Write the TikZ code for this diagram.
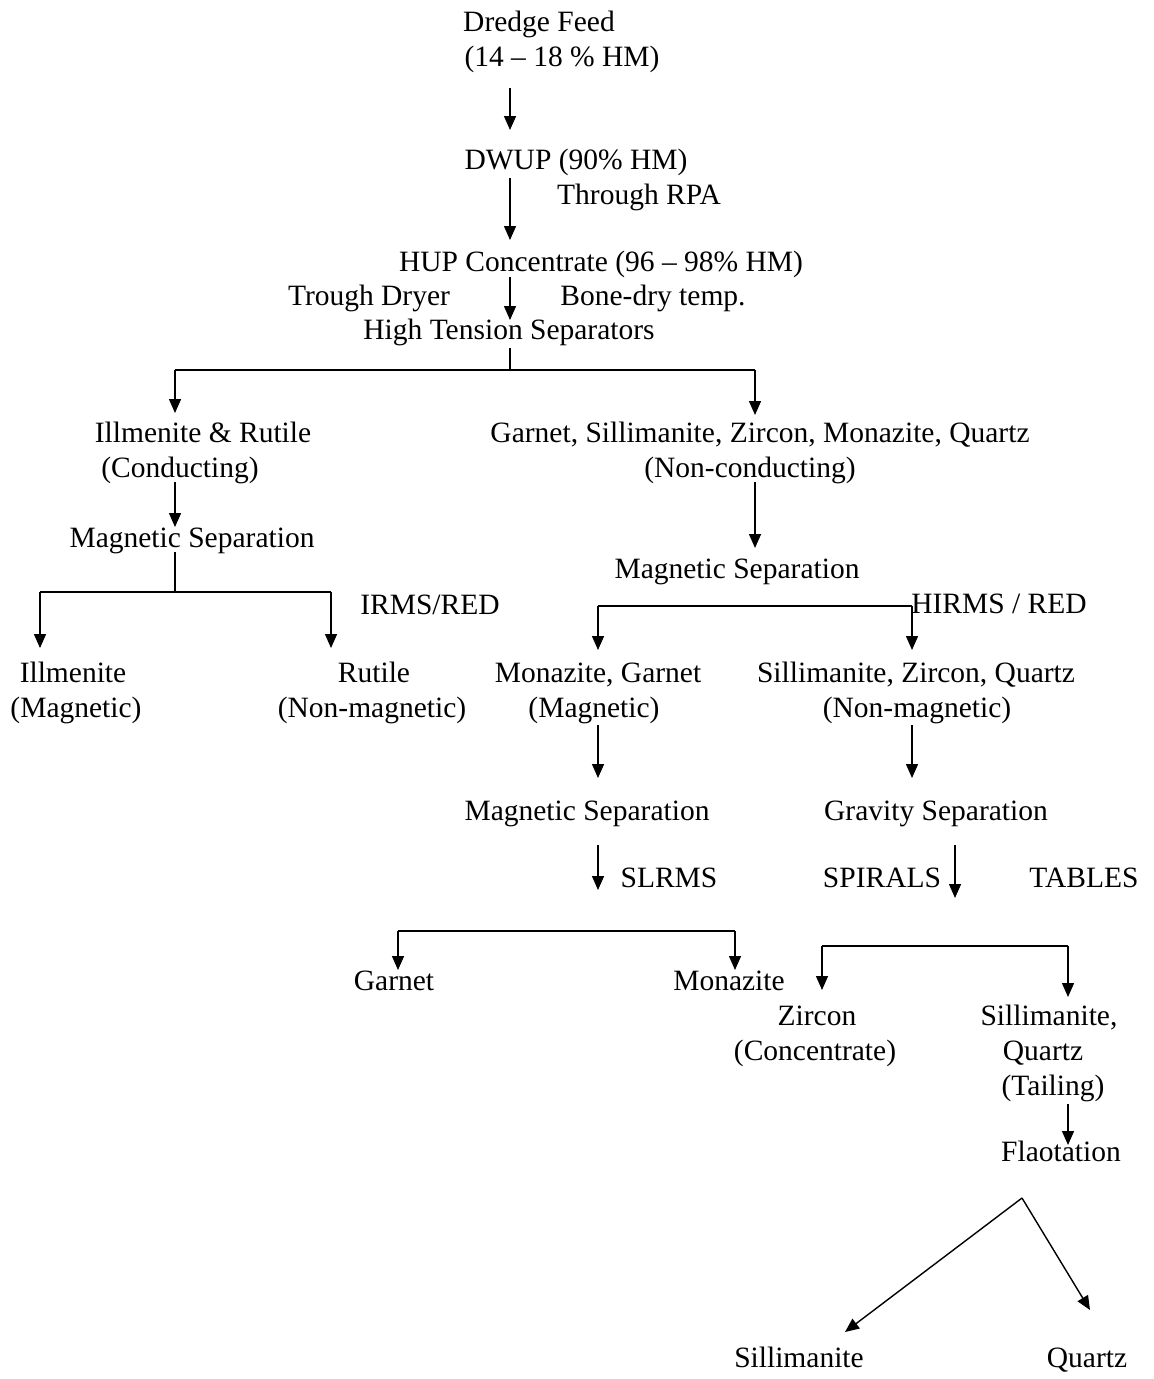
\documentclass[tikz,border=0pt]{standalone}
\usepackage{fontspec}
\setmainfont{Liberation Serif}
\usetikzlibrary{arrows.meta}
\begin{document}
\begin{tikzpicture}[x=1pt,y=-1pt,
  txt/.style={font=\fontsize{29.5}{35}\selectfont, inner sep=0pt, anchor=mid, yshift=-3.5pt},
  ln/.style={line width=1.4pt, black},
  arr/.style={ln, -{Triangle[width=12pt,length=14pt]}}]
\useasboundingbox (0,0) rectangle (1154,1379);
% ---- text nodes
\node[txt] (df1) at (539,26) {Dredge Feed};
\node[txt] (df2) at (562,61) {(14 – 18 \% HM)};
\node[txt] (dwup) at (576,164) {DWUP (90\% HM)};
\node[txt] (rpa) at (639,199) {Through RPA};
\node[txt] (hup) at (601,266) {HUP Concentrate (96 – 98\% HM)};
\node[txt] (dryer) at (369,300) {Trough Dryer};
\node[txt] (bone) at (653,300) {Bone-dry temp.};
\node[txt] (hts) at (509,334) {High Tension Separators};
\node[txt] (ir1) at (203,437) {Illmenite \& Rutile};
\node[txt] (ir2) at (180,472) {(Conducting)};
\node[txt] (gs1) at (760,437) {Garnet, Sillimanite, Zircon, Monazite, Quartz};
\node[txt] (gs2) at (750,472) {(Non-conducting)};
\node[txt] (ms1) at (192,542) {Magnetic Separation};
\node[txt] (ms2) at (737,573) {Magnetic Separation};
\node[txt] (irms) at (430,609) {IRMS/RED};
\node[txt] (hirms) at (999,608) {HIRMS / RED};
\node[txt] (il1) at (73,677) {Illmenite};
\node[txt] (il2) at (76,712) {(Magnetic)};
\node[txt] (ru1) at (374,677) {Rutile};
\node[txt] (ru2) at (372,712) {(Non-magnetic)};
\node[txt] (mg1) at (598,677) {Monazite, Garnet};
\node[txt] (mg2) at (594,712) {(Magnetic)};
\node[txt] (sz1) at (916,677) {Sillimanite, Zircon, Quartz};
\node[txt] (sz2) at (917,712) {(Non-magnetic)};
\node[txt] (ms3) at (587,815) {Magnetic Separation};
\node[txt] (gv) at (936,815) {Gravity Separation};
\node[txt] (slrms) at (669,882) {SLRMS};
\node[txt] (spir) at (882,882) {SPIRALS};
\node[txt] (tab) at (1084,882) {TABLES};
\node[txt] (gar) at (394,985) {Garnet};
\node[txt] (mon) at (729,985) {Monazite};
\node[txt] (zr1) at (817,1020) {Zircon};
\node[txt] (zr2) at (815,1055) {(Concentrate)};
\node[txt] (sq1) at (1049,1020) {Sillimanite,};
\node[txt] (sq2) at (1043,1055) {Quartz};
\node[txt] (sq3) at (1053,1090) {(Tailing)};
\node[txt] (flo) at (1061,1156) {Flaotation};
\node[txt] (sil) at (799,1362) {Sillimanite};
\node[txt] (qtz) at (1087,1362) {Quartz};
% ---- connector points
\coordinate (a1s) at (510,88);   \coordinate (a1e) at (510,130);
\coordinate (a2s) at (510,178);  \coordinate (a2e) at (510,240);
\coordinate (a3s) at (510,277);  \coordinate (a3e) at (510,320);
\coordinate (hts0) at (510,348); \coordinate (htsj) at (510,370);
\coordinate (htsL) at (175,370); \coordinate (htsR) at (755,370);
\coordinate (irT) at (175,413);  \coordinate (gsT) at (755,415);
\coordinate (ir2b) at (175,482); \coordinate (ms1t) at (175,527);
\coordinate (ms1b) at (175,552); \coordinate (ms1j) at (175,592);
\coordinate (ms1L) at (40,592);  \coordinate (ms1R) at (331,592);
\coordinate (ilT) at (40,648);   \coordinate (ruT) at (331,648);
\coordinate (gs2b) at (755,482); \coordinate (ms2t) at (755,548);
\coordinate (ms2L) at (598,606); \coordinate (ms2R) at (912,606);
\coordinate (mgT) at (598,650);  \coordinate (szT) at (912,650);
\coordinate (mg2b) at (598,725); \coordinate (ms3t) at (598,778);
\coordinate (sz2b) at (912,725); \coordinate (gvt) at (912,778);
\coordinate (ms3b) at (598,845); \coordinate (slE) at (598,890);
\coordinate (gvb) at (955,845);  \coordinate (spE) at (955,898);
\coordinate (gmL) at (398,931);  \coordinate (gmR) at (735,931);
\coordinate (garT) at (398,970); \coordinate (monT) at (735,970);
\coordinate (zqL) at (822,946);  \coordinate (zqR) at (1068,946);
\coordinate (zrT) at (822,990);  \coordinate (sqT) at (1068,997);
\coordinate (sq3b) at (1068,1104); \coordinate (floT) at (1068,1145);
\coordinate (flA) at (1022,1198);
\coordinate (silT) at (845,1332); \coordinate (qtzT) at (1090,1310);
% ---- connectors
\draw[arr] (a1s) -- (a1e);
\draw[arr] (a2s) -- (a2e);
\draw[arr] (a3s) -- (a3e);
\draw[ln] (hts0) -- (htsj);
\draw[ln] (htsL) -- (htsR);
\draw[arr] (htsL) -- (irT);
\draw[arr] (htsR) -- (gsT);
\draw[arr] (ir2b) -- (ms1t);
\draw[ln] (ms1b) -- (ms1j);
\draw[ln] (ms1L) -- (ms1R);
\draw[arr] (ms1L) -- (ilT);
\draw[arr] (ms1R) -- (ruT);
\draw[arr] (gs2b) -- (ms2t);
\draw[ln] (ms2L) -- (ms2R);
\draw[arr] (ms2L) -- (mgT);
\draw[arr] (ms2R) -- (szT);
\draw[arr] (mg2b) -- (ms3t);
\draw[arr] (sz2b) -- (gvt);
\draw[arr] (ms3b) -- (slE);
\draw[arr] (gvb) -- (spE);
\draw[ln] (gmL) -- (gmR);
\draw[arr] (gmL) -- (garT);
\draw[arr] (gmR) -- (monT);
\draw[ln] (zqL) -- (zqR);
\draw[arr] (zqL) -- (zrT);
\draw[arr] (zqR) -- (sqT);
\draw[arr] (sq3b) -- (floT);
\draw[arr] (flA) -- (silT);
\draw[arr] (flA) -- (qtzT);
\end{tikzpicture}
\end{document}
